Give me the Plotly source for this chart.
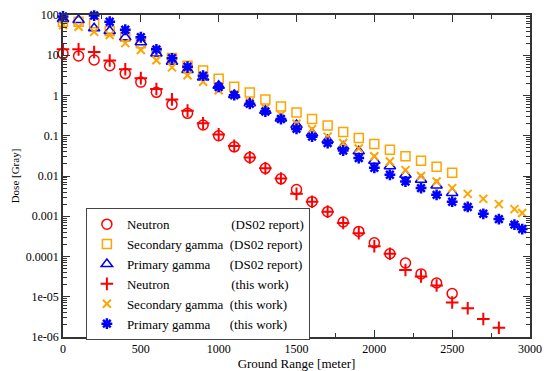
import plotly.graph_objects as go

# ---- data ----
x_ds02 = [0, 100, 200, 300, 400, 500, 600, 700, 800, 900, 1000, 1100, 1200, 1300,
          1400, 1500, 1600, 1700, 1800, 1900, 2000, 2100, 2200, 2300, 2400, 2500]
neutron_ds02 = [11, 9.6, 7.6, 5.5, 3.5, 2.15, 1.2, 0.6, 0.36, 0.185, 0.1, 0.053, 0.029,
                0.0155, 0.0085, 0.0046, 0.0023, 0.0013, 0.00072, 0.00042, 0.00022,
                0.000117, 6.9e-5, 3.7e-5, 2.2e-5, 1.2e-5]
secondary_ds02 = [68, 68, 62, 40, 29, 20, 12, 8.5, 5.5, 4.2, 2.6, 1.66, 1.18, 0.79, 0.53,
                  0.38, 0.26, 0.18, 0.124, 0.088, 0.062, 0.045, 0.031, 0.024, 0.017, 0.012]
primary_ds02 = [80, 75, 47, 40, 28, 21, 11, 6.9, 4.3, 2.8, 1.74, 1.03, 0.64, 0.42, 0.27,
                0.186, 0.116, 0.079, 0.054, 0.041, 0.024, 0.0174, 0.0107, 0.0081, 0.0058, 0.0038]

x_neutron_tw = [0, 100, 200, 300, 400, 500, 600, 700, 800, 900, 1000, 1100, 1200, 1300,
                1400, 1500, 1600, 1700, 1800, 1900, 2000, 2100, 2200, 2300, 2400, 2500,
                2600, 2700, 2800]
neutron_tw = [14, 14, 12, 7.4, 4.5, 2.7, 1.45, 0.8, 0.42, 0.205, 0.108, 0.056, 0.029,
              0.0155, 0.0087, 0.0036, 0.0023, 0.0013, 0.00068, 0.00038, 0.00018, 0.000117,
              4.6e-5, 3.2e-5, 1.9e-5, 7.2e-6, 5.2e-6, 2.8e-6, 1.7e-6]

x_gamma_tw = [0, 100, 200, 300, 400, 500, 600, 700, 800, 900, 1000, 1100, 1200, 1300,
              1400, 1500, 1600, 1700, 1800, 1900, 2000, 2100, 2200, 2300, 2400, 2500,
              2600, 2700, 2800, 2900, 2950]
secondary_tw = [56, 51, 38, 32, 20, 13.5, 7.5, 5, 3.2, 2.2, 1.35, 1.0, 0.68, 0.48, 0.33,
                0.2, 0.146, 0.095, 0.066, 0.048, 0.031, 0.023, 0.014, 0.01, 0.0073, 0.005,
                0.0036, 0.0027, 0.002, 0.0015, 0.0012]
primary_tw = [92, 105, 97, 68, 43, 28, 14, 8.4, 5.2, 3.1, 1.63, 1.02, 0.62, 0.4, 0.26,
              0.148, 0.095, 0.066, 0.043, 0.028, 0.016, 0.0107, 0.0073, 0.005, 0.0034,
              0.0023, 0.0017, 0.00115, 0.00085, 0.00062, 0.00048]

y_tickvals = [1e-6, 1e-5, 1e-4, 1e-3, 1e-2, 1e-1, 1, 10, 100]
y_ticktext = ["1e-06", "1e-05", "0.0001", "0.001", "0.01", "0.1", "1", "10", "100"]

NB = "\u00a0"
RED, ORANGE, BLUE = "#FF0000", "#FFA500", "#0000FF"
FONT = "Liberation Serif"

series = [
    ("Neutron" + NB * 19 + "(DS02 report)", x_ds02, neutron_ds02, "circle-open", RED, 10, 1.5),
    ("Secondary gamma" + NB * 2 + "(DS02 report)", x_ds02, secondary_ds02, "square-open", ORANGE, 9, 1.5),
    ("Primary gamma" + NB * 6 + "(DS02 report)", x_ds02, primary_ds02, "triangle-up-open", BLUE, 10, 1.5),
    ("Neutron" + NB * 19 + "(this work)", x_neutron_tw, neutron_tw, "cross-thin-open", RED, 9, 2),
    ("Secondary gamma" + NB * 2 + "(this work)", x_gamma_tw, secondary_tw, "x-thin-open", ORANGE, 8, 2),
    ("Primary gamma" + NB * 6 + "(this work)", x_gamma_tw, primary_tw, "asterisk-open", BLUE, 9, 2.5),
]

fig = go.Figure()
for name, xs, ys, sym, col, size, lw in series:
    fig.add_trace(go.Scatter(
        x=xs, y=ys, mode="markers", name=name, cliponaxis=False,
        marker=dict(symbol=sym, size=size, color=col, line=dict(color=col, width=lw)),
    ))

fig.update_layout(
    width=544, height=371,
    margin=dict(l=63, r=14, t=15, b=34, autoexpand=False),
    paper_bgcolor="white", plot_bgcolor="white",
    font=dict(family=FONT, size=12, color="black"),
    showlegend=True,
    legend=dict(
        x=0.049, y=0.40, xanchor="left", yanchor="top",
        bgcolor="white", bordercolor="#444", borderwidth=1,
        font=dict(family=FONT, size=13, color="black"),
        tracegroupgap=0, itemwidth=30,
    ),
)
fig.update_xaxes(
    range=[0, 3000], tickmode="linear", tick0=0, dtick=500, automargin=False,
    ticks="inside", ticklen=7, tickwidth=1, tickcolor="#333",
    showline=True, linecolor="#333", linewidth=1.5, mirror="ticks",
    showgrid=False, zeroline=False,
    minor=dict(ticks="inside", ticklen=4, dtick=250, tick0=0, tickcolor="#333", showgrid=False),
    tickfont=dict(family=FONT, size=12),
    title=dict(text="Ground Range [meter]", font=dict(family=FONT, size=13), standoff=2),
)
fig.update_yaxes(
    type="log", range=[-6, 2], automargin=False,
    tickmode="array", tickvals=y_tickvals, ticktext=y_ticktext,
    ticks="inside", ticklen=7, tickwidth=1, tickcolor="#333",
    showline=True, linecolor="#333", linewidth=1.5, mirror="ticks",
    showgrid=False, zeroline=False,
    minor=dict(ticks="inside", ticklen=4, dtick="D1", tickcolor="#333", showgrid=False),
    tickfont=dict(family=FONT, size=12),
    title=dict(text="Dose [Gray]", font=dict(family=FONT, size=11), standoff=4),
)

fig.write_html(
    "out.html",
    config={"displayModeBar": False},
    post_script="document.body.style.margin='0';document.body.style.overflow='hidden';",
)
